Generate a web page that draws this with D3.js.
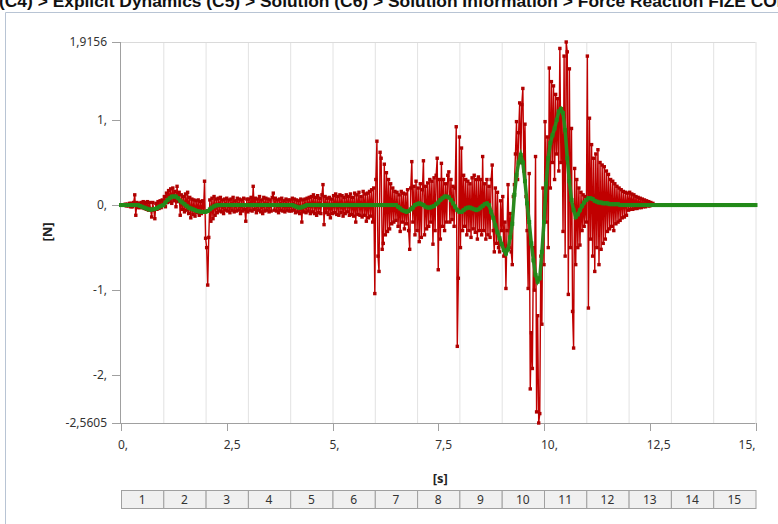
<!DOCTYPE html>
<html><head><meta charset="utf-8">
<script src="https://cdn.jsdelivr.net/npm/d3@7"></script>
<style>html,body{margin:0;padding:0;background:#fff;overflow:hidden}</style>
</head><body><svg id="c" width="778" height="524"></svg>
<script>
const titleText = "(C4) > Explicit Dynamics (C5) > Solution (C6) > Solution Information > Force Reaction FIZE CONTACT";
const xLabel = "[s]";
const yLabel = "[N]";
const xTicks = [0, 2.5, 5, 7.5, 10, 12.5, 15];
const xTickLabels = ["0,", "2,5", "5,", "7,5", "10,", "12,5", "15,"];
const yTicks = [1.9156, 1, 0, -1, -2, -2.5605];
const yTickLabels = ["1,9156", "1,", "0,", "-1,", "-2,", "-2,5605"];
const tableLabels = ["1","2","3","4","5","6","7","8","9","10","11","12","13","14","15"];

// red series: force reaction, one row per 0.5 s
const redStart = 0, redStep = 0.025;
const redValues = [
  0,0,0,0,0.01,-0.01,0.01,-0.01,0.02,-0.02,0.02,-0.02,0.03,0.12,-0.12,0.03,-0.03,0.02,-0.03,0.03,
  -0.03,0.04,-0.04,0.03,-0.05,0.04,-0.06,0.03,-0.05,-0.14,0.03,-0.06,-0.16,0.02,-0.05,0.04,-0.04,0.05,-0.03,0.06,
  0.02,0.1,-0.02,0.14,0.03,0.17,0.04,0.19,0.02,0.2,0.05,0.16,-0.02,0.22,0.04,0.15,-0.12,0.12,-0.05,0.1,
  -0.08,0.13,-0.06,0.15,-0.1,0.09,-0.15,0.07,-0.11,0.06,-0.13,0.05,-0.09,0.06,-0.12,0.04,-0.1,0.05,-0.08,0.28,
  -0.39,-0.5,-0.94,-0.38,0.06,-0.19,0.08,-0.16,0.1,-0.12,0.07,-0.09,0.08,-0.07,0.09,-0.08,0.06,-0.1,0.07,-0.06,
  0.08,-0.07,0.06,-0.09,0.07,-0.06,0.09,-0.08,0.05,-0.07,0.08,-0.06,0.07,-0.1,0.06,-0.07,0.08,-0.05,-0.19,0.07,
  -0.08,0.07,-0.06,0.09,-0.07,0.22,-0.05,0.08,-0.09,0.07,-0.06,0.1,-0.08,0.06,-0.1,0.09,-0.07,0.08,-0.06,0.07,
  -0.08,0.06,-0.07,0.09,0.14,-0.06,0.08,-0.07,0.06,-0.09,0.07,-0.06,0.08,-0.07,0.05,-0.08,0.07,-0.06,0.06,-0.07,
  0.06,-0.07,0.08,-0.06,0.07,-0.09,0.06,-0.08,0.05,-0.1,0.07,-0.2,0.06,-0.08,0.07,-0.09,0.08,-0.07,0.09,-0.1,
  0.1,-0.08,0.12,-0.1,0.09,-0.12,0.11,-0.09,0.08,-0.1,0.12,0.24,-0.23,0.1,-0.09,0.08,-0.11,0.09,-0.15,0.07,
  -0.1,0.11,-0.09,0.13,-0.11,0.1,-0.12,0.12,-0.09,0.11,-0.13,0.09,-0.1,0.12,-0.08,0.1,-0.12,0.13,-0.11,0.09,
  -0.13,0.14,-0.2,0.12,-0.11,0.15,-0.12,0.1,-0.14,0.16,-0.12,0.13,-0.19,0.14,-0.15,0.16,-0.13,0.18,-0.2,0.2,
  -1.04,0.3,0.75,-0.6,-0.78,0.62,0.55,-0.52,-0.45,0.48,-0.35,0.38,-0.31,0.3,-0.28,0.25,-0.22,0.2,-0.2,0.16,
  -0.18,0.15,-0.25,0.12,-0.31,0.16,-0.2,0.14,-0.28,0.13,-0.22,0.18,-0.3,-0.52,0.2,0.51,-0.2,0.22,-0.35,0.28,
  -0.3,0.2,-0.43,0.25,-0.38,0.18,0.52,-0.35,0.22,-0.28,0.26,-0.25,0.3,-0.2,0.28,-0.46,0.32,-0.3,0.35,0.55,
  -0.76,0.3,-0.4,0.49,-0.25,0.3,-0.3,0.25,-0.2,0.35,0.39,-0.2,0.3,-0.17,0.22,-0.25,0.2,0.92,-1.66,-0.86,
  0.8,-0.5,0.67,-0.3,0.35,-0.25,0.3,-0.35,0.28,-0.3,0.25,-0.38,0.32,-0.28,0.35,-0.32,0.3,-0.4,0.33,-0.3,
  0.3,-0.35,0.57,-0.3,0.25,-0.4,0.3,-0.35,0.22,-0.38,0.3,0.47,-0.3,-0.55,0.2,-0.45,0.15,-0.5,-0.55,0.05,
  -0.3,0.1,-0.6,-0.2,-0.98,-0.3,0.24,-0.5,-0.1,-0.55,-0.7,0.1,0.24,0.6,0.98,0.3,0.85,1.2,0.5,1.18,
  1.37,0.4,0.95,0.1,-0.3,-0.98,0.37,-2.16,-1.5,-1.92,-0.5,-1.0,0.57,-2.43,-1.3,-2.5605,-2.45,-0.6,-1.4,0.2,
  -0.7,0.98,-0.2,0.8,-0.5,1.61,0.2,1.45,0.5,1.4,0.3,1.3,0.6,1.25,0.4,1.84,0.5,1.13,-0.31,1.75,
  -0.6,1.9156,1.8,-1.05,1.6,-0.5,0.9,-1.25,-1.68,0.43,-0.7,0.3,-0.5,0.2,-0.47,0.15,-0.3,0.12,-0.25,0.1,
  -0.2,1.75,-1.21,1.02,-0.4,0.71,-0.6,0.55,-0.78,0.6,-0.5,0.65,-0.7,0.5,-0.52,0.47,-0.45,0.45,-0.4,0.4,
  -0.31,0.36,-0.28,0.3,-0.25,0.28,-0.3,0.25,-0.22,0.22,-0.2,0.2,-0.18,0.18,-0.15,0.16,-0.14,0.15,-0.12,0.14,
  -0.06,0.15,-0.05,0.13,-0.05,0.12,-0.04,0.1,-0.04,0.09,-0.03,0.08,-0.03,0.07,-0.02,0.06,-0.02,0.05,-0.01,0.04,
  -0.01,0.03,0,0.02,0
];

// green series: filtered force, one row per second
const greenStart = 0, greenStep = 0.05;
const greenValues = [
  0,0,0,0,0,0,0,0,0,-0.01,-0.02,-0.03,-0.04,-0.05,-0.055,-0.05,-0.045,-0.035,-0.02,-0.01,
  0,0.03,0.06,0.08,0.1,0.1,0.1,0.08,0.05,0.03,0.01,-0.01,-0.03,-0.04,-0.05,-0.06,-0.07,-0.075,-0.08,-0.08,
  -0.08,-0.07,-0.05,-0.03,-0.015,-0.005,0,0,0,0,0,0,0,0,0,0,0,0,0,0,
  0,0,0,0,0,0,0,0,0,0,0,0,0,0,0,0,0,0,0,0,
  0,0,-0.01,-0.02,-0.03,-0.03,-0.02,-0.01,0,0,0,0,0,0,0,0,0,0,0,0,
  0,0,0,0,0,0,0,0,0,0,0,0,0,0,0,0,0,0,0,0,
  0,0,0,0,0,0,0,0,0,0,0,-0.02,-0.04,-0.06,-0.07,-0.08,-0.07,-0.05,-0.03,0,
  0.01,0.02,0.01,0,-0.02,-0.03,-0.03,-0.02,-0.01,0.01,0.03,0.06,0.08,0.1,0.1,0.09,0.06,0.02,-0.02,-0.06,
  -0.08,-0.08,-0.06,-0.04,-0.03,-0.03,-0.04,-0.05,-0.06,-0.05,-0.03,-0.01,0.01,0.02,0,-0.08,-0.15,-0.24,-0.32,-0.39,
  -0.46,-0.53,-0.57,-0.52,-0.38,-0.22,0.12,0.35,0.5,0.59,0.5,0.28,0.02,-0.2,-0.45,-0.65,-0.82,-0.9,-0.86,-0.55,
  -0.2,0.25,0.55,0.73,0.82,0.9,1.0,1.1,1.13,1.08,0.88,0.55,0.28,0.06,-0.06,-0.14,-0.11,-0.06,-0.01,0.03,
  0.06,0.08,0.08,0.07,0.05,0.04,0.03,0.03,0.02,0.02,0.02,0.01,0.01,0.01,0.01,0.01,0,0,0,0,
  0,0,0,0,0,0,0,0,0,0,0,0,0,0,0,0,0,0,0,0,
  0,0,0,0,0,0,0,0,0,0,0,0,0,0,0,0,0,0,0,0,
  0,0,0,0,0,0,0,0,0,0,0,0,0,0,0,0,0,0,0,0,
  0
];

const svg = d3.select("#c");
const x = d3.scaleLinear().domain([0, 15]).range([121, 755.5]);
const y = d3.scaleLinear().domain([-2.5605, 1.9156]).range([423, 42]);
const font = "'Noto Sans', 'Open Sans', sans-serif";

// panel border
svg.append("line").attr("x1", 5.5).attr("x2", 778).attr("y1", 12.5).attr("y2", 12.5).attr("stroke", "#b8c4d4");
svg.append("line").attr("x1", 5.5).attr("x2", 5.5).attr("y1", 12.5).attr("y2", 524).attr("stroke", "#b8c4d4");

// title (clipped at top, as in the source window)
svg.append("text").attr("x", -1).attr("y", 7).attr("font-family", "'Liberation Sans', Arial, sans-serif")
  .attr("font-weight", "bold").attr("font-size", 17.4).attr("fill", "#111").text(titleText);

// grid
const gridTicks = d3.range(1, 16);
svg.append("g").selectAll("line").data(gridTicks).join("line")
  .attr("x1", d => x(d) + 0.5).attr("x2", d => x(d) + 0.5)
  .attr("y1", y.range()[1]).attr("y2", y.range()[0])
  .attr("stroke", "#e2e2e2");
svg.append("line").attr("x1", x(0)).attr("x2", x(15)).attr("y1", y(1.9156) + 0.5).attr("y2", y(1.9156) + 0.5).attr("stroke", "#dadada");

// axes
const axisColor = "#a0a0a0";
svg.append("line").attr("x1", x(0) - 0.5).attr("x2", x(0) - 0.5).attr("y1", y.range()[1]).attr("y2", y.range()[0]).attr("stroke", axisColor);
svg.append("line").attr("x1", x(0) - 0.5).attr("x2", x(15)).attr("y1", y(-2.5605) + 0.5).attr("y2", y(-2.5605) + 0.5).attr("stroke", axisColor);

const yt = svg.append("g");
yt.selectAll("line").data(yTicks).join("line")
  .attr("x1", 112).attr("x2", x(0)).attr("y1", d => Math.round(y(d)) + 0.5).attr("y2", d => Math.round(y(d)) + 0.5)
  .attr("stroke", axisColor);
yt.selectAll("text").data(yTicks).join("text")
  .attr("x", 107).attr("y", d => y(d)).attr("dy", "0.35em").attr("text-anchor", "end")
  .attr("font-family", font).attr("font-size", 12).attr("fill", "#333")
  .text((d, i) => yTickLabels[i]);

const xt = svg.append("g");
xt.selectAll("line").data(xTicks).join("line")
  .attr("x1", d => Math.round(x(d)) + 0.5).attr("x2", d => Math.round(x(d)) + 0.5)
  .attr("y1", y.range()[0]).attr("y2", y.range()[0] + 8).attr("stroke", axisColor);
xt.selectAll("text").data(xTicks).join("text")
  .attr("x", (d, i) => i === xTicks.length - 1 ? x(d) : x(d) - 3)
  .attr("y", 449)
  .attr("text-anchor", (d, i) => i === xTicks.length - 1 ? "end" : "start")
  .attr("font-family", font).attr("font-size", 12).attr("fill", "#333")
  .text((d, i) => xTickLabels[i]);

// axis titles
svg.append("text").attr("x", (x(0) + x(15)) / 2 + 2).attr("y", 483).attr("text-anchor", "middle")
  .attr("font-family", font).attr("font-weight", "bold").attr("font-size", 13).attr("fill", "#222").text(xLabel);
svg.append("text").attr("transform", "translate(52,232) rotate(-90)").attr("text-anchor", "middle")
  .attr("font-family", font).attr("font-weight", "bold").attr("font-size", 13).attr("fill", "#222").text(yLabel);

// series
const redData = redValues.map((v, i) => [redStart + i * redStep, v]);
const greenData = greenValues.map((v, i) => [greenStart + i * greenStep, v]);
const line = d3.line().x(d => x(d[0])).y(d => y(d[1]));

svg.append("path").datum(redData).attr("d", line).attr("fill", "none").attr("stroke", "#c00000").attr("stroke-width", 1.4);
svg.append("g").selectAll("rect").data(redData).join("rect")
  .attr("x", d => x(d[0]) - 1.7).attr("y", d => y(d[1]) - 1.7).attr("width", 3.4).attr("height", 3.4).attr("fill", "#b00000");

svg.append("path").datum(greenData).attr("d", line).attr("fill", "none").attr("stroke", "#2a8a1e").attr("stroke-width", 3.5);
svg.append("g").selectAll("rect").data(greenData).join("rect")
  .attr("x", d => x(d[0]) - 2).attr("y", d => y(d[1]) - 2).attr("width", 4).attr("height", 4).attr("fill", "#228a18");

// bottom table
const tbl = svg.append("g");
const tTop = 490, tH = 18;
tbl.selectAll("rect").data(tableLabels).join("rect")
  .attr("x", (d, i) => x(i) + 0.5).attr("y", tTop + 0.5)
  .attr("width", (d, i) => x(i + 1) - x(i)).attr("height", tH)
  .attr("fill", "#f0f0f0").attr("stroke", "#a0a0a0");
tbl.selectAll("text").data(tableLabels).join("text")
  .attr("x", (d, i) => (x(i) + x(i + 1)) / 2).attr("y", tTop + tH / 2 + 1).attr("dy", "0.35em")
  .attr("text-anchor", "middle").attr("font-family", font).attr("font-size", 12).attr("fill", "#333")
  .text(d => d);
</script></body></html>
